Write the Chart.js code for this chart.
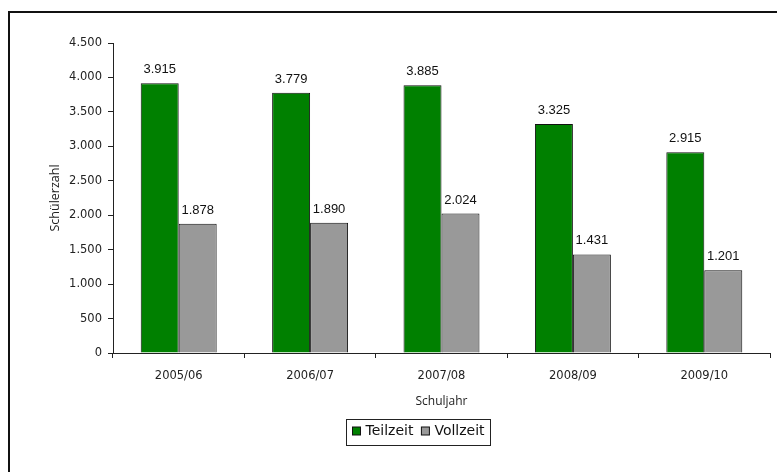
<!DOCTYPE html>
<html>
<head>
<meta charset="utf-8">
<script src="https://cdn.jsdelivr.net/npm/chart.js@4/dist/chart.umd.min.js"></script>
<style>
  html, body { margin: 0; padding: 0; background: #fff; }
  #wrap { width: 777px; height: 472px; position: relative; }
</style>
</head>
<body>
<div id="wrap"><canvas id="c" width="777" height="472"></canvas></div>
<script>
// School years and pupil counts
const categories = ['2005/06', '2006/07', '2007/08', '2008/09', '2009/10'];
const teilzeit = [3915, 3779, 3885, 3325, 2915];
const vollzeit = [1878, 1890, 2024, 1431, 1201];
const seriesNames = ['Teilzeit', 'Vollzeit'];
const yTicks = [0, 500, 1000, 1500, 2000, 2500, 3000, 3500, 4000, 4500];

// German thousands separator
function fmt(v) {
  return String(Math.round(v)).replace(/\B(?=(\d{3})+(?!\d))/g, '.');
}

// Outer frame around the figure
const framePlugin = {
  id: 'frame',
  beforeDraw(chart) {
    const ctx = chart.ctx;
    ctx.save();
    ctx.fillStyle = '#fff';
    ctx.fillRect(0, 0, chart.width, chart.height);
    ctx.strokeStyle = '#111';
    ctx.lineWidth = 2;
    ctx.strokeRect(9, 12, chart.width + 20, chart.height + 20);
    ctx.restore();
  }
};

// Value labels above each bar
const valueLabels = {
  id: 'valueLabels',
  afterDatasetsDraw(chart) {
    const ctx = chart.ctx;
    ctx.save();
    ctx.font = '13px "Liberation Sans", Arial, sans-serif';
    ctx.fillStyle = '#111';
    ctx.textAlign = 'center';
    ctx.textBaseline = 'alphabetic';
    chart.data.datasets.forEach((ds, di) => {
      const meta = chart.getDatasetMeta(di);
      meta.data.forEach((bar, i) => {
        ctx.fillText(fmt(ds.data[i]), bar.x, bar.y - 10);
      });
    });
    ctx.restore();
  }
};

// Boxed legend below the axis title
const boxedLegend = {
  id: 'boxedLegend',
  afterDraw(chart) {
    const ctx = chart.ctx;
    ctx.save();
    ctx.font = '14px "DejaVu Sans", Verdana, sans-serif';
    const sq = 8, gapSq = 5, gapItem = 8, padX = 6;
    const items = chart.data.datasets.map(ds => ({
      text: ds.label, color: ds.backgroundColor, w: ctx.measureText(ds.label).width
    }));
    let total = padX * 2;
    items.forEach((it, i) => { total += sq + gapSq + it.w + (i < items.length - 1 ? gapItem : 0); });
    const cx = 418, cy = 431.5, h = 26;
    const left = Math.round(cx - total / 2) + 0.5;
    const top = Math.round(cy - h / 2) + 0.5;
    ctx.strokeStyle = '#222';
    ctx.lineWidth = 1;
    ctx.strokeRect(left, top, Math.round(total), h);
    let x = left + padX;
    ctx.textBaseline = 'middle';
    ctx.textAlign = 'left';
    items.forEach(it => {
      ctx.fillStyle = it.color;
      ctx.fillRect(x, cy - sq / 2 - 0.5, sq, sq);
      ctx.strokeStyle = '#111';
      ctx.strokeRect(x, cy - sq / 2 - 0.5, sq, sq);
      x += sq + gapSq;
      ctx.fillStyle = '#111';
      ctx.fillText(it.text, x, cy);
      x += it.w + gapItem;
    });
    ctx.restore();
  }
};

const tickFont = { family: '"DejaVu Sans", Verdana, sans-serif', size: 11.5 };

new Chart(document.getElementById('c'), {
  type: 'bar',
  data: {
    labels: categories,
    datasets: [
      {
        label: seriesNames[0], data: teilzeit,
        backgroundColor: '#008000', borderColor: '#111', borderWidth: 1,
        categoryPercentage: 0.578, barPercentage: 1
      },
      {
        label: seriesNames[1], data: vollzeit,
        backgroundColor: '#999999', borderColor: '#111', borderWidth: 1,
        categoryPercentage: 0.578, barPercentage: 1
      }
    ]
  },
  options: {
    responsive: false,
    animation: false,
    devicePixelRatio: 1,
    layout: { padding: { left: 0, top: 43, right: 7, bottom: 59 } },
    plugins: {
      legend: { display: false },
      tooltip: { enabled: false },
      title: { display: false }
    },
    scales: {
      x: {
        afterFit(scale) { scale.height = 60; },
        grid: { display: true, drawOnChartArea: false, drawTicks: true, tickLength: 5, color: '#222', offset: true },
        border: { display: true, color: '#222', width: 1 },
        ticks: { color: '#222', font: tickFont, padding: 11, maxRotation: 0 },
        title: {
          display: true, text: 'Schuljahr', color: '#222',
          font: { family: '"Open Sans", sans-serif', size: 12 },
          padding: { top: 0, bottom: 4 }
        }
      },
      y: {
        min: 0, max: 4500,
        afterFit(scale) { scale.width = 113; },
        afterBuildTicks(scale) { scale.ticks = yTicks.map(v => ({ value: v })); },
        grid: { display: true, drawOnChartArea: false, drawTicks: true, tickLength: 5, color: '#222' },
        border: { display: true, color: '#222', width: 1 },
        ticks: { color: '#222', font: tickFont, padding: 6, callback: v => fmt(v) },
        title: {
          display: true, text: 'Schülerzahl', color: '#222',
          font: { family: '"Open Sans", sans-serif', size: 12.5 },
          padding: { top: 48, bottom: 0 }
        }
      }
    }
  },
  plugins: [framePlugin, valueLabels, boxedLegend]
});
</script>
</body>
</html>
